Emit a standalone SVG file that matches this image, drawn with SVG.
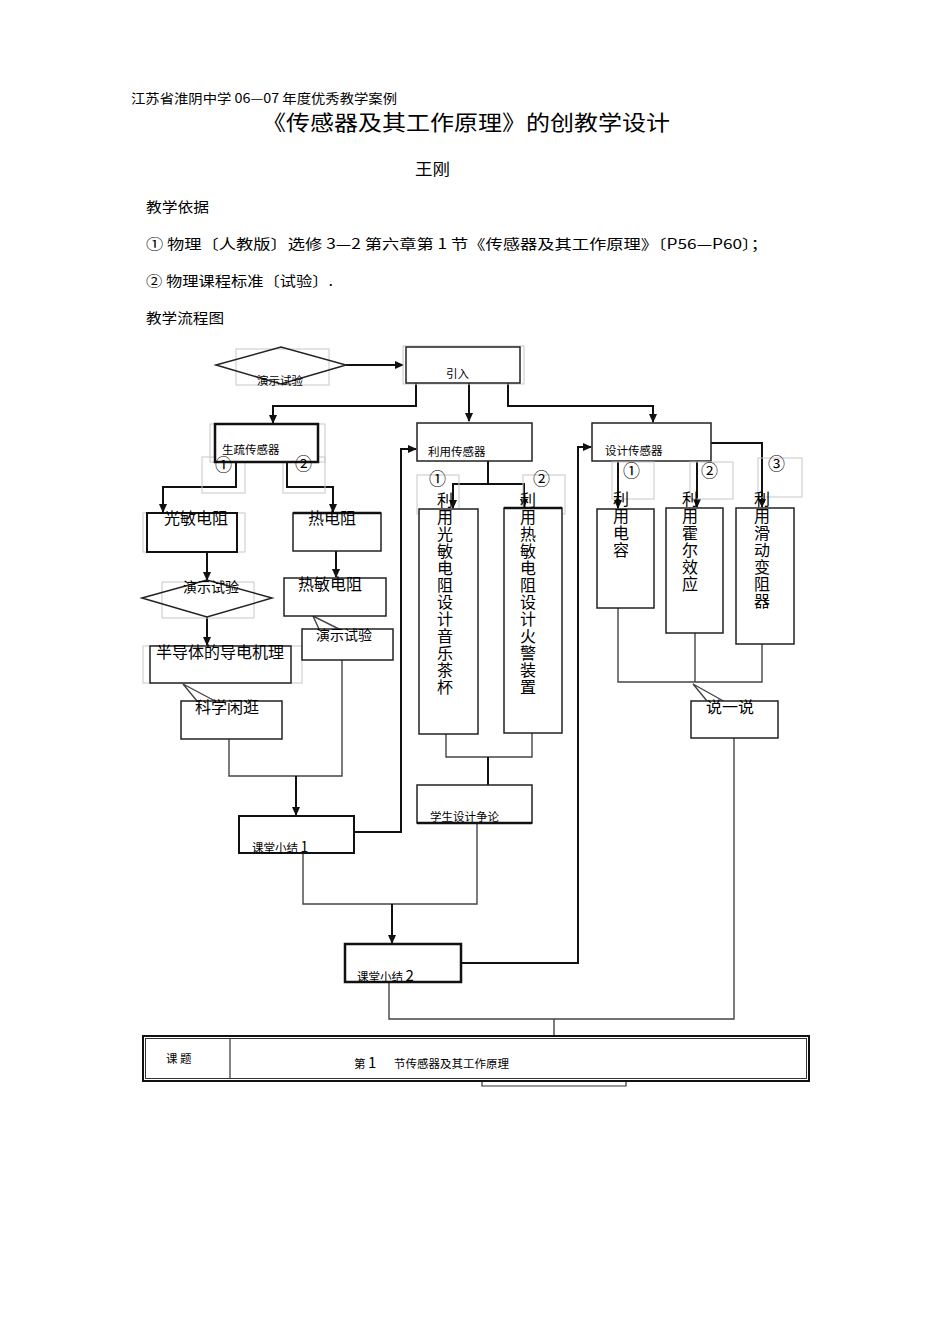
<svg xmlns="http://www.w3.org/2000/svg" width="950" height="1344" viewBox="0 0 950 1344">
<style>
text{font-family:"Noto Sans CJK SC","Noto Sans",sans-serif;fill:#000}
.s11{font-size:11.5px}
.s14{font-size:14px}
.s16{font-size:16px}
.num{font-size:17px}
.box{fill:#fff;stroke:#222;stroke-width:1.5}
.thick{fill:#fff;stroke:#111;stroke-width:2.5}
.gray{fill:none;stroke:#c8c8c8;stroke-width:1}
.ln{fill:none;stroke:#444;stroke-width:1.4}
.ar{fill:none;stroke:#111;stroke-width:2;marker-end:url(#ah)}
.vt{font-size:16px;writing-mode:vertical-rl;letter-spacing:1px}
</style>
<defs>
<marker id="ah" markerWidth="10" markerHeight="10" refX="8" refY="5" orient="auto" markerUnits="userSpaceOnUse">
<path d="M0,1 L9,5 L0,9 Z" fill="#111"/>
</marker>
</defs>
<rect width="950" height="1344" fill="#fff"/>

<g id="header">
<text x="131" y="103" font-size="13" textLength="266" lengthAdjust="spacingAndGlyphs">江苏省淮阴中学 06—07 年度优秀教学案例</text>
<text x="262" y="130" font-size="21" textLength="408" lengthAdjust="spacingAndGlyphs">《传感器及其工作原理》的创教学设计</text>
<text x="415" y="175" font-size="16" textLength="35" lengthAdjust="spacingAndGlyphs">王刚</text>
<text x="146" y="212" font-size="14" textLength="63" lengthAdjust="spacingAndGlyphs">教学依据</text>
<text x="146" y="249" font-size="14" textLength="622" lengthAdjust="spacingAndGlyphs">① 物理〔人教版〕选修 3—2 第六章第 1 节《传感器及其工作原理》〔P56—P60〕；</text>
<text x="146" y="286" font-size="14" textLength="187" lengthAdjust="spacingAndGlyphs">② 物理课程标准〔试验〕.</text>
<text x="146" y="323" font-size="14" textLength="78" lengthAdjust="spacingAndGlyphs">教学流程图</text>
</g>

<g id="connectors">
<path class="ar" d="M346,365 H403"/>
<path class="ar" d="M416,383 V406 H273 V423"/>
<path class="ar" d="M469,383 V421"/>
<path class="ar" d="M508,383 V406 H653 V422"/>
<path class="ar" d="M236,462 V487 H163 V512"/>
<path class="ar" d="M287,462 V487 H333 V512"/>
<path class="ar" d="M207,552 V580"/>
<path class="ar" d="M207,617 V645"/>
<path class="ln" d="M197,701 L183,684 L215,701"/>
<path class="ar" d="M336,551 V577"/>
<path class="ln" d="M319,629 L313,616 L343,631"/>
<path class="ln" d="M229,739 V776 H342 V660"/>
<path class="ar" d="M296,776 V815"/>
<path class="ar" d="M354,832 H401 V449 H416"/>
<path class="ar" d="M488,461 V484 H453 V508"/>
<path class="ar" d="M488,484 H524 V507"/>
<path class="ln" d="M446,734 V757 H532 V733"/>
<path class="ar" d="M488,757 V785" style="marker-end:none"/>
<path class="ln" d="M477,823 V904 H303 V853"/>
<path class="ar" d="M392,904 V943"/>
<path class="ar" d="M461,963 H578 V447 H591"/>
<path class="ar" d="M618,461 V508"/>
<path class="ar" d="M697,461 V507"/>
<path class="ar" d="M711,443 H762 V507"/>
<path class="ln" d="M618,608 V682 H762 V644"/>
<path class="ln" d="M695,633 V682"/>
<path class="ln" d="M707,701 L693,684 L727,703"/>
<path class="ln" d="M734,738 V1019 H389 V982"/>
<path class="ln" d="M554,1019 V1036"/>
</g>

<g id="demo1">
<rect class="gray" x="236" y="349" width="93" height="36"/>
<polygon points="216,365 281,347 346,365 281,384" fill="none" stroke="#222" stroke-width="1.5"/>
<text class="s11" x="257" y="385">演示试验</text>
</g>

<g id="yinru">
<rect class="gray" x="403" y="346" width="121" height="38"/>
<rect class="box" x="406" y="347" width="114" height="36"/>
<text class="s11" x="446" y="378">引入</text>
</g>

<g id="shengshu">
<rect class="gray" x="210" y="424" width="115" height="38"/>
<rect class="gray" x="202" y="457" width="43" height="36"/>
<rect class="gray" x="283" y="457" width="42" height="36"/>
<rect class="thick" x="215" y="424" width="103" height="38"/>
<text class="s11" x="222" y="454">生疏传感器</text>
<text class="num" x="215" y="471">①</text>
<text class="num" x="295" y="470">②</text>
</g>

<g id="guangmin">
<rect class="gray" x="143" y="513" width="102" height="39"/>
<rect class="thick" x="147" y="513" width="90" height="39" style="stroke-width:2"/>
<text class="s16" x="164" y="524">光敏电阻</text>
</g>

<g id="redianzu">
<rect class="box" x="293" y="513" width="88" height="38"/>
<line x1="293" y1="513" x2="381" y2="513" stroke="#111" stroke-width="2.5"/>
<text class="s16" x="308" y="524">热电阻</text>
</g>

<g id="demo2">
<rect class="gray" x="162" y="582" width="92" height="36"/>
<polygon points="142,598 207,580 272,598 207,617" fill="none" stroke="#222" stroke-width="1.5"/>
<text class="s14" x="183" y="592">演示试验</text>
</g>

<g id="bandaoti">
<rect class="gray" x="143" y="646" width="159" height="37"/>
<rect class="box" x="150" y="646" width="141" height="37"/>
<text class="s16" x="156" y="658">半导体的导电机理</text>
</g>

<g id="kexue">
<rect class="box" x="181" y="701" width="101" height="38"/>
<text class="s16" x="195" y="713">科学闲逛</text>
</g>

<g id="remin">
<rect class="box" x="284" y="578" width="102" height="38"/>
<text class="s16" x="298" y="590">热敏电阻</text>
</g>

<g id="demo3">
<rect class="box" x="302" y="629" width="91" height="31"/>
<text class="s14" x="316" y="640">演示试验</text>
</g>

<g id="xiaojie1">
<rect class="thick" x="239" y="816" width="115" height="37" style="stroke-width:2"/>
<text class="s11" x="252" y="852">课堂小结 <tspan font-size="14">1</tspan></text>
</g>

<g id="liyong">
<rect class="box" x="417" y="423" width="115" height="38"/>
<text class="s11" x="428" y="456">利用传感器</text>
</g>

<g id="liyong1">
<rect class="gray" x="417" y="475" width="42" height="39"/>
<rect class="box" x="419" y="509" width="59" height="225"/>
<text class="num" x="429" y="485">①</text>
<text class="vt" x="445" y="492">利用光敏电阻设计音乐茶杯</text>
</g>

<g id="liyong2">
<rect class="gray" x="523" y="475" width="42" height="39"/>
<rect class="box" x="504" y="508" width="58" height="225"/>
<line x1="504" y1="508" x2="562" y2="508" stroke="#111" stroke-width="2.5"/>
<text class="num" x="533" y="485">②</text>
<text class="vt" x="528" y="492">利用热敏电阻设计火警装置</text>
</g>

<g id="zhenglun">
<rect class="box" x="417" y="785" width="115" height="38"/>
<line x1="417" y1="823" x2="532" y2="823" stroke="#111" stroke-width="2.5"/>
<text class="s11" x="430" y="821">学生设计争论</text>
</g>

<g id="xiaojie2">
<rect class="thick" x="345" y="944" width="116" height="38"/>
<text class="s11" x="357" y="981">课堂小结 <tspan font-size="15">2</tspan></text>
</g>

<g id="sheji">
<rect class="box" x="592" y="423" width="119" height="38"/>
<text class="s11" x="605" y="455">设计传感器</text>
</g>

<g id="sheji1">
<rect class="gray" x="612" y="462" width="42" height="37"/>
<rect class="box" x="597" y="509" width="57" height="99"/>
<text class="num" x="623" y="477">①</text>
<text class="vt" x="621" y="491">利用电容</text>
</g>

<g id="sheji2">
<rect class="gray" x="690" y="462" width="43" height="37"/>
<rect class="box" x="666" y="508" width="57" height="125"/>
<text class="num" x="701" y="477">②</text>
<text class="vt" x="690" y="491">利用霍尔效应</text>
</g>

<g id="sheji3">
<rect class="gray" x="758" y="458" width="44" height="39"/>
<rect class="box" x="736" y="508" width="58" height="136"/>
<text class="num" x="768" y="470">③</text>
<text class="vt" x="762" y="491">利用滑动变阻器</text>
</g>

<g id="shuoyishuo">
<rect class="box" x="691" y="701" width="87" height="37"/>
<text class="s16" x="706" y="713">说一说</text>
</g>

<g id="table">
<rect x="143" y="1036" width="666" height="45" fill="#fff" stroke="#111" stroke-width="2"/>
<rect x="145.5" y="1038.5" width="661" height="40" fill="none" stroke="#333" stroke-width="1"/>
<line x1="230" y1="1038" x2="230" y2="1079" stroke="#333" stroke-width="1.2"/>
<text class="s11" x="166" y="1063">课 题</text>
<text class="s11" x="354" y="1068">第 <tspan font-size="15">1</tspan><tspan x="394">节传感器及其工作原理</tspan></text>
<path d="M482,1082 V1086 H626 V1082" fill="none" stroke="#333" stroke-width="1.2"/>
</g>
</svg>
